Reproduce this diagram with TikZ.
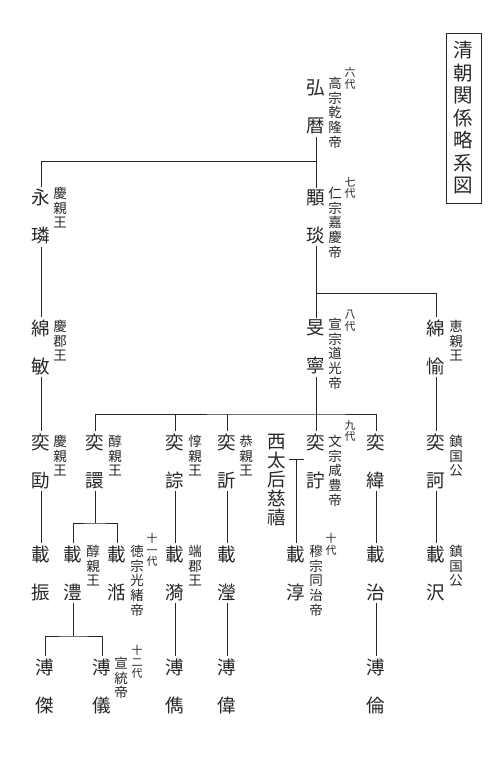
\documentclass[tikz,border=0pt]{standalone}
\usepackage{fontspec}
\newfontfamily\cjk{Noto Sans CJK JP}

\begin{document}
\begin{tikzpicture}[x=1pt, y=-1pt, line width=0.7pt, color=black!85,
	nm/.style={font=\cjk\fontsize{18.5}{19}\selectfont, align=center, inner sep=2pt},
	ttl/.style={font=\cjk\fontsize{13.5}{14.6}\selectfont, align=center, inner sep=0pt, anchor=north},
	gen/.style={font=\cjk\fontsize{11}{11.5}\selectfont, align=center, inner sep=0pt, anchor=north}]
	\useasboundingbox (0,0) rectangle (500,774);
	\node[draw, line width=0.9pt, font=\cjk\fontsize{19.5}{22.5}\selectfont, align=center, minimum width=35pt, minimum height=170pt, inner sep=0pt] (title) at (463.5,118) {清\\朝\\関\\係\\略\\系\\図};

	\coordinate (b1) at (0,161);
	\coordinate (b2) at (0,293);
	\coordinate (b3) at (0,414);
	\coordinate (m) at (0,459);
	\coordinate (b4) at (0,523);
	\coordinate (b5) at (0,636);

	\node[nm] (hongli) at (316,107) {弘\\[19pt]暦};
	\node[nm] (yonglin) at (41,217) {永\\[19pt]璘};
	\node[nm] (yongyan) at (316,217) {顒\\[19pt]琰};
	\node[nm] (mianmin) at (41,347) {綿\\[19pt]敏};
	\node[nm] (minning) at (316,347) {旻\\[19pt]寧};
	\node[nm] (mianyu) at (436,347) {綿\\[19pt]愉};
	\node[nm] (yikuang) at (41,461) {奕\\[19pt]劻};
	\node[nm] (yixuan) at (95,461) {奕\\[19pt]譞};
	\node[nm] (yicong) at (175,461) {奕\\[19pt]誴};
	\node[nm] (yixin) at (227,461) {奕\\[19pt]訢};
	\node[nm] (cixi) at (277,480) {西\\太\\后\\慈\\禧};
	\node[nm] (yizhu) at (316,461) {奕\\[19pt]詝};
	\node[nm] (yiwei) at (376,461) {奕\\[19pt]緯};
	\node[nm] (yike) at (436,461) {奕\\[19pt]訶};
	\node[nm] (zaizhen) at (41,573) {載\\[19pt]振};
	\node[nm] (zaifeng) at (73,573) {載\\[19pt]澧};
	\node[nm] (zaitian) at (117,573) {載\\[19pt]湉};
	\node[nm] (zaiyi) at (175,573) {載\\[19pt]漪};
	\node[nm] (zaiying) at (227,573) {載\\[19pt]瀅};
	\node[nm] (zaichun) at (296,573) {載\\[19pt]淳};
	\node[nm] (zaizhi) at (376,573) {載\\[19pt]治};
	\node[nm] (zaize) at (436,573) {載\\[19pt]沢};
	\node[nm] (pujie) at (45,686) {溥\\[19pt]傑};
	\node[nm] (puyi) at (102,686) {溥\\[19pt]儀};
	\node[nm] (pujun) at (175,686) {溥\\[19pt]儁};
	\node[nm] (puwei) at (227,686) {溥\\[19pt]偉};
	\node[nm] (pulun) at (376,686) {溥\\[19pt]倫};

	\node[gen] (g-hongli) at (350,67) {六\\代};
	\node[ttl] (t-hongli) at (335,77) {高\\宗\\乾\\隆\\帝};
	\node[gen] (g-yongyan) at (350,177) {七\\代};
	\node[ttl] (t-yongyan) at (335,187) {仁\\宗\\嘉\\慶\\帝};
	\node[gen] (g-minning) at (350,310) {八\\代};
	\node[ttl] (t-minning) at (335,318) {宣\\宗\\道\\光\\帝};
	\node[gen] (g-yizhu) at (350,420) {九\\代};
	\node[ttl] (t-yizhu) at (335,435) {文\\宗\\咸\\豊\\帝};
	\node[gen] (g-zaichun) at (331,533) {十\\代};
	\node[ttl] (t-zaichun) at (316,545) {穆\\宗\\同\\治\\帝};
	\node[gen] (g-zaitian) at (152,533) {十\\一\\代};
	\node[ttl] (t-zaitian) at (137,545) {徳\\宗\\光\\緒\\帝};
	\node[gen] (g-puyi) at (137,645) {十\\二\\代};
	\node[ttl] (t-puyi) at (121,657) {宣\\統\\帝};

	\node[ttl] (l-yonglin) at (60,187) {慶\\親\\王};
	\node[ttl] (l-mianmin) at (60,320) {慶\\郡\\王};
	\node[ttl] (l-mianyu) at (456,320) {恵\\親\\王};
	\node[ttl] (l-yikuang) at (60,435) {慶\\親\\王};
	\node[ttl] (l-yixuan) at (115,435) {醇\\親\\王};
	\node[ttl] (l-yicong) at (195,435) {惇\\親\\王};
	\node[ttl] (l-yixin) at (246,435) {恭\\親\\王};
	\node[ttl] (l-yike) at (456,435) {鎮\\国\\公};
	\node[ttl] (l-zaifeng) at (93,545) {醇\\親\\王};
	\node[ttl] (l-zaiyi) at (195,545) {端\\郡\\王};
	\node[ttl] (l-zaize) at (456,545) {鎮\\国\\公};

	\draw (hongli) -- (yongyan);
	\draw (yonglin.north) |- (yongyan |- b1);
	\draw (yonglin) -- (mianmin);
	\draw (mianmin) -- (yikuang);
	\draw (yikuang) -- (zaizhen);
	\draw (yongyan) -- (minning);
	\draw (mianyu.north) |- (minning |- b2);
	\draw (mianyu) -- (yike);
	\draw (yike) -- (zaize);
	\draw (minning) -- (yizhu);
	\draw (yixuan.north) |- (minning |- b3) -| (yiwei.north);
	\draw (yicong.north) -- (yicong |- b3);
	\draw (yixin.north) -- (yixin |- b3);
	\draw (cixi.east |- m) -- (yizhu.west |- m);
	\draw (zaichun.north) -- (zaichun |- m);
	\draw (yixuan.south) -- (yixuan |- b4);
	\draw (zaifeng.north) |- (yixuan |- b4) -| (zaitian.north);
	\draw (zaifeng.south) -- (zaifeng |- b5);
	\draw (pujie.north) |- (zaifeng |- b5) -| (puyi.north);
	\draw (yicong) -- (zaiyi);
	\draw (zaiyi) -- (pujun);
	\draw (yixin) -- (zaiying);
	\draw (zaiying) -- (puwei);
	\draw (yiwei) -- (zaizhi);
	\draw (zaizhi) -- (pulun);
\end{tikzpicture}
\end{document}
